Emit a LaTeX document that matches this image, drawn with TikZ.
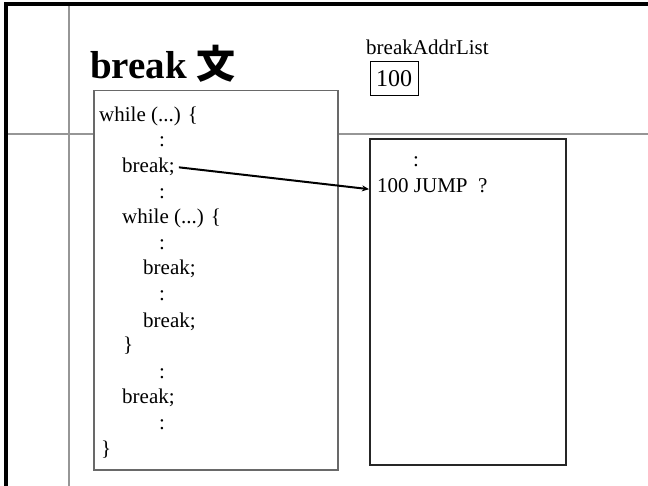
\documentclass[tikz,border=0pt]{standalone}
\usepackage{fontspec}
\setmainfont{Liberation Serif}
\newfontfamily\cjk{Noto Sans CJK JP}
\usetikzlibrary{arrows.meta}
\definecolor{rulegray}{RGB}{150,150,150}
\definecolor{boxgray}{RGB}{105,105,105}
\tikzset{
  %% one line of code / text
  cline/.style={anchor=base west,inner sep=0pt,font=\fontsize{21}{25}\selectfont},
  %% source box (grey border)
  codebox/.style={rectangle,draw=boxgray,fill=white,line width=1.5pt,anchor=north west},
  %% generated code box
  membox/.style={rectangle,draw=black!85,fill=white,line width=1.6pt,anchor=north west},
  %% list cell
  cell/.style={rectangle,draw=black,line width=1pt,minimum width=48pt,minimum height=34pt,
    inner sep=0pt,font=\fontsize{24}{28}\selectfont},
  arr/.style={-{Stealth[length=7pt,width=6pt]},line width=2pt},
}

\begin{document}
\begin{tikzpicture}[x=1pt,y=-1pt]
  \useasboundingbox (0,0) rectangle (648,486);
  %% slide frame
  \draw[rulegray,line width=2pt] (69,4) -- (69,486);
  \draw[rulegray,line width=2pt] (6,134) -- (648,134);
  \draw[line width=3.5pt] (6,486) -- (6,4) -- (648,4);

  \node[anchor=base west,inner sep=0pt,font=\fontsize{39}{44}\selectfont\bfseries] (title) at (90,79) {break {\cjk 文}};

  %% boxes
  \node[codebox,minimum width=244pt,minimum height=379pt] (src) at (93,90) {};
  \node[membox,minimum width=196pt,minimum height=326pt] (obj) at (369,138) {};

  %% source lines
  \node[cline] (l0)  at (99,122)  {while (...) \{};
  \node[cline] (l1)  at (159,147) {:};
  \node[cline] (l2)  at (122,173) {break;};
  \node[cline] (l3)  at (159,199) {:};
  \node[cline] (l4)  at (122,224) {while (...) \{};
  \node[cline] (l5)  at (159,250) {:};
  \node[cline] (l6)  at (143,275) {break;};
  \node[cline] (l7)  at (159,301) {:};
  \node[cline] (l8)  at (143,327) {break;};
  \node[cline] (l9)  at (123,352) {\}};
  \node[cline] (l10) at (159,378) {:};
  \node[cline] (l11) at (122,403) {break;};
  \node[cline] (l12) at (159,429) {:};
  \node[cline] (l13) at (101,455) {\}};

  %% generated code
  \node[cline] (o0) at (413,167) {:};
  \node[cline] (o1) at (377,193) {100 JUMP\ \ ?};

  %% break address list
  \node[cline] (lst) at (366,55) {breakAddrList};
  \node[cell] (c0) at (394,79) {100};

  \draw[arr] ([xshift=4pt]l2.east) -- ([yshift=-3pt,xshift=-8pt]o1.west);
\end{tikzpicture}
\end{document}
